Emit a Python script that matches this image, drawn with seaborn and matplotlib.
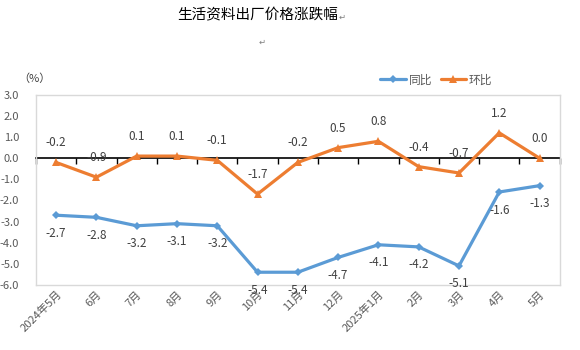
import matplotlib
matplotlib.use("Agg")
import matplotlib.pyplot as plt
import seaborn as sns
import pandas as pd
import numpy as np

months = ["2024年5月", "6月", "7月", "8月", "9月", "10月", "11月", "12月",
          "2025年1月", "2月", "3月", "4月", "5月"]
yoy = [-2.7, -2.8, -3.2, -3.1, -3.2, -5.4, -5.4, -4.7, -4.1, -4.2, -5.1, -1.6, -1.3]
mom = [-0.2, -0.9, 0.1, 0.1, -0.1, -1.7, -0.2, 0.5, 0.8, -0.4, -0.7, 1.2, 0.0]
series_names = ["同比", "环比"]
yticks = [-6, -5, -4, -3, -2, -1, 0, 1, 2, 3]

sns.set_theme(style="white")
plt.rcParams['font.family'] = ['Noto Sans CJK SC', 'DejaVu Sans']

idx = list(range(len(months)))
df = pd.DataFrame({"pos": idx * 2,
                   "value": yoy + mom,
                   "series": [series_names[0]] * len(months) + [series_names[1]] * len(months)})

fig = plt.figure(figsize=(5.8, 3.5), dpi=100)
ax = fig.add_axes([0.062, 0.186, 0.903, 0.543])

blue = "#5B9BD5"
orange = "#ED7D31"
sns.lineplot(data=df[df.series == series_names[0]], x="pos", y="value", ax=ax,
             color=blue, lw=2.3, marker="D", markersize=4, markeredgewidth=0,
             label=series_names[0], sort=False)
sns.lineplot(data=df[df.series == series_names[1]], x="pos", y="value", ax=ax,
             color=orange, lw=2.3, marker="^", markersize=6, markeredgewidth=0,
             label=series_names[1], sort=False)

ax.set_xlim(-0.5, len(months) - 0.5)
ax.set_ylim(-6, 3)
ax.set_yticks(yticks)
ax.set_yticklabels([f"{v:.1f}" for v in yticks], fontsize=8, color="#595959")
ax.set_xticks(idx)
ax.set_xticklabels(months, rotation=45, ha="right", rotation_mode="anchor",
                   fontsize=8, color="#595959")
ax.tick_params(axis="both", length=0, pad=3)
ax.tick_params(axis="y", pad=12)
ax.set_xlabel("")
ax.set_ylabel("")
for s in ax.spines.values():
    s.set_color("#D9D9D9")
    s.set_linewidth(1)

# zero category axis with tick marks
sec = ax.secondary_xaxis((0 - (-6)) / 9)
sec.set_xticks(np.arange(-0.5, len(months), 1.0))
sec.tick_params(direction="in", length=4, width=1, color="black", labeltop=False, labelbottom=False)
sec.spines["top"].set_color("black")
sec.spines["bottom"].set_color("black")
for s in sec.spines.values():
    s.set_linewidth(1.2)

for i, v in enumerate(yoy):
    ax.annotate(f"{v:.1f}", (i, v), xytext=(0, -13), textcoords="offset points",
                ha="center", va="center", fontsize=8.5, color="#404040")
for i, v in enumerate(mom):
    ax.annotate(f"{v:.1f}", (i, v), xytext=(0, 14), textcoords="offset points",
                ha="center", va="center", fontsize=8.5, color="#404040")

ax.legend(loc="center right", bbox_to_anchor=(0.857, 0.772), bbox_transform=fig.transFigure,
          ncol=2, frameon=False,
          fontsize=8.5, handlelength=2.2, columnspacing=0.7, borderaxespad=0.0,
          handletextpad=0.2, labelcolor="#595959")

fig.text(0.445, 0.955, "生活资料出厂价格涨跌幅", ha="center", va="center", fontsize=10.5, color="black")
fig.text(0.590, 0.952, "↵", ha="center", va="center", fontsize=6, color="#7F7F7F")
fig.text(0.452, 0.88, "↵", ha="center", va="center", fontsize=6, color="#7F7F7F")
fig.text(0.060, 0.775, "（%）", ha="center", va="center", fontsize=8, color="#404040")

fig.savefig("out.png", dpi=100)
